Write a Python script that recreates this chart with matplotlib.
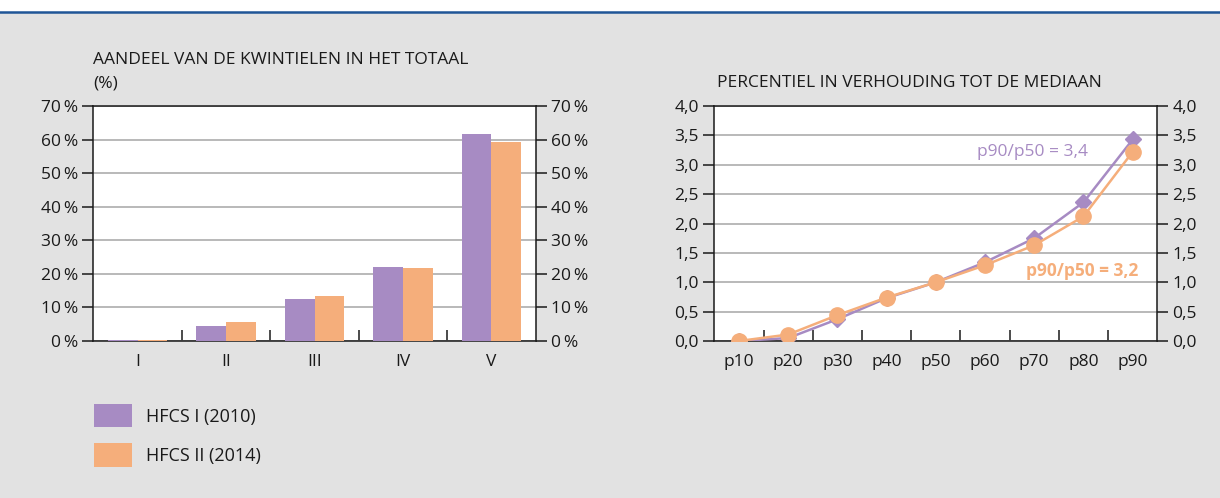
import numpy as np
import matplotlib.pyplot as plt
from matplotlib.patches import Rectangle
from matplotlib.lines import Line2D

plt.rcParams['font.family'] = ['Open Sans', 'DejaVu Sans']

# ---------------------------------------------------------------------------
# data

quintiles = ['I', 'II', 'III', 'IV', 'V']
share_2010 = [0.2, 4.5, 12.6, 21.9, 61.6]
share_2014 = [0.2, 5.7, 13.5, 21.6, 59.4]

percentiles = ['p10', 'p20', 'p30', 'p40', 'p50', 'p60', 'p70', 'p80', 'p90']
ratio_2010 = [0.0, 0.05, 0.37, 0.73, 1.0, 1.34, 1.75, 2.36, 3.43]
ratio_2014 = [0.0, 0.11, 0.44, 0.74, 1.0, 1.29, 1.63, 2.12, 3.22]

series_labels = ['HFCS I (2010)', 'HFCS II (2014)']
share_ticks = [0, 10, 20, 30, 40, 50, 60, 70]
ratio_ticks = [0.0, 0.5, 1.0, 1.5, 2.0, 2.5, 3.0, 3.5, 4.0]

# ---------------------------------------------------------------------------
# style

PURPLE = '#a78bc3'
ORANGE = '#f5ae7b'
BG = '#e2e2e2'
GRID = '#b3b3b3'
TXT = '#1a1a1a'
FS = 12.5
W, H = 1220, 498

fig = plt.figure(figsize=(W / 100, H / 100), dpi=100)
fig.patch.set_facecolor('white')
fig.patches.append(Rectangle((0, 0), 1, 1 - 13 / H, transform=fig.transFigure,
                             facecolor=BG, edgecolor='none', zorder=-10))
fig.add_artist(Line2D([0, 1], [1 - 12 / H, 1 - 12 / H], transform=fig.transFigure,
                      color='#1f5597', lw=1.8))


def frame(ax, ticks, ticklabels, cats):
    ax.set_facecolor('white')
    for s in ax.spines.values():
        s.set_color(TXT)
        s.set_linewidth(1.1)
    n = len(cats)
    ax.set_xlim(-0.5, n - 0.5)
    ax.set_ylim(ticks[0], ticks[-1])
    ax.set_yticks(ticks)
    ax.set_yticklabels(ticklabels)
    ax.tick_params(axis='y', direction='out', length=8, width=1.1, color=TXT,
                   labelsize=FS, labelcolor=TXT, pad=3, right=True, labelright=True)
    # category boundaries get the tick marks, centres get the labels
    ax.set_xticks(np.arange(n - 1) + 0.5)
    ax.set_xticklabels([])
    ax.set_xticks(np.arange(n), minor=True)
    ax.set_xticklabels(cats, minor=True)
    ax.tick_params(axis='x', which='major', direction='in', length=8, width=1.1, color=TXT)
    ax.tick_params(axis='x', which='minor', length=0, labelsize=FS, labelcolor=TXT, pad=9)
    ax.grid(axis='y', color=GRID, lw=1.3)
    ax.set_axisbelow(True)


# left: quintile shares
ax1 = fig.add_axes([93.4 / W, 1 - 341 / H, 442.3 / W, 235 / H])
x = np.arange(len(quintiles))
bw = 0.335
b1 = ax1.bar(x - bw / 2, share_2010, bw, color=PURPLE, label=series_labels[0], zorder=3)
b2 = ax1.bar(x + bw / 2, share_2014, bw, color=ORANGE, label=series_labels[1], zorder=3)
frame(ax1, share_ticks, ['%d\u2009%%' % t for t in share_ticks], quintiles)

fig.text(93 / W, 1 - 60 / H, 'AANDEEL VAN DE KWINTIELEN IN HET TOTAAL', fontsize=FS,
         color=TXT, va='center', ha='left')
fig.text(93 / W, 1 - 83 / H, '(%)', fontsize=FS, color=TXT, va='center', ha='left')

# right: percentile / median
ax2 = fig.add_axes([714.3 / W, 1 - 341 / H, 443 / W, 235 / H])
xp = np.arange(len(percentiles))
ax2.plot(xp, ratio_2010, color=PURPLE, lw=1.8, marker='D', ms=8.5, zorder=3)
ax2.plot(xp, ratio_2014, color=ORANGE, lw=1.8, marker='o', ms=11, zorder=4)
frame(ax2, ratio_ticks, [('%.1f' % t).replace('.', ',') for t in ratio_ticks], percentiles)

ax2.annotate('p90/p50 = %s' % ('%.1f' % ratio_2010[-1]).replace('.', ','),
             xy=(8, ratio_2010[-1]), xytext=(-32, -9), textcoords='offset points',
             ha='right', va='center', color=PURPLE, fontsize=FS)
ax2.annotate('p90/p50 = %s' % ('%.1f' % ratio_2014[-1]).replace('.', ','),
             xy=(8, 1.22), xytext=(4, -1.5), textcoords='offset points',
             ha='right', va='center', color=ORANGE, fontsize=FS, fontweight='bold')

fig.text(717 / W, 1 - 83 / H, 'PERCENTIEL IN VERHOUDING TOT DE MEDIAAN', fontsize=FS,
         color=TXT, va='center', ha='left')

# legend
fig.legend(handles=[b1, b2], labels=series_labels, loc='upper left',
           bbox_to_anchor=(94 / W, 1 - 404 / H), frameon=False, fontsize=13,
           handlelength=2.1, handleheight=1.6, labelspacing=0.9, handletextpad=0.8,
           borderpad=0, borderaxespad=0, labelcolor=TXT)

fig.savefig('out.png', dpi=100, facecolor=fig.get_facecolor())
